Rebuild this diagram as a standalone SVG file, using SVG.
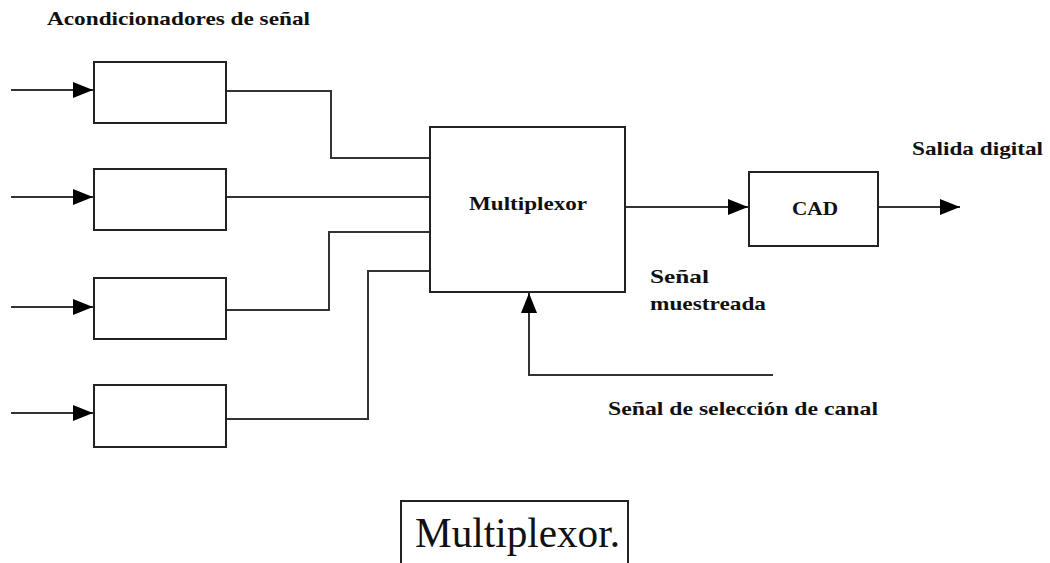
<svg xmlns="http://www.w3.org/2000/svg" width="1050" height="563" viewBox="0 0 1050 563">
<style>
.box{fill:#fff;stroke:#222;stroke-width:2}
.ln{fill:none;stroke:#333;stroke-width:2}
.lbl{font-family:"Liberation Serif","Times New Roman",serif;font-weight:bold;font-size:19px;fill:#111}
.cap{font-family:"Liberation Serif","Times New Roman",serif;font-size:42px;fill:#111}
</style>
<defs>
<marker id="ah" viewBox="0 0 20 16" refX="20" refY="8" markerWidth="20" markerHeight="16" markerUnits="userSpaceOnUse" orient="auto">
<path d="M0,0 L20,8 L0,16 Z" fill="#000"/>
</marker>
</defs>
<rect width="1050" height="563" fill="#fff"/>
<g id="connectors">
<line class="ln" x1="11" y1="90" x2="93" y2="90" marker-end="url(#ah)"/>
<line class="ln" x1="11" y1="197" x2="93" y2="197" marker-end="url(#ah)"/>
<line class="ln" x1="11" y1="307" x2="93" y2="307" marker-end="url(#ah)"/>
<line class="ln" x1="11" y1="413" x2="93" y2="413" marker-end="url(#ah)"/>
<polyline class="ln" points="226,91 331,91 331,158 430,158"/>
<polyline class="ln" points="226,197 430,197"/>
<polyline class="ln" points="226,310 329,310 329,232 430,232"/>
<polyline class="ln" points="226,419 368,419 368,271 430,271"/>
<line class="ln" x1="625" y1="207" x2="748" y2="207" marker-end="url(#ah)"/>
<line class="ln" x1="878" y1="207" x2="960" y2="207" marker-end="url(#ah)"/>
<polyline class="ln" points="773,375 529,375 529,293" marker-end="url(#ah)"/>
</g>
<g id="acond1"><rect class="box" x="94" y="62" width="132" height="61"/></g>
<g id="acond2"><rect class="box" x="94" y="169" width="132" height="61"/></g>
<g id="acond3"><rect class="box" x="94" y="278" width="132" height="61"/></g>
<g id="acond4"><rect class="box" x="94" y="385" width="132" height="62"/></g>
<g id="mux"><rect class="box" x="430" y="127" width="195" height="165"/>
<text class="lbl" x="469" y="210" textLength="118" lengthAdjust="spacingAndGlyphs">Multiplexor</text></g>
<g id="cad"><rect class="box" x="749" y="172" width="129" height="74"/>
<text class="lbl" x="792" y="215" textLength="46" lengthAdjust="spacingAndGlyphs">CAD</text></g>
<g id="labels">
<text class="lbl" x="47" y="25" textLength="263" lengthAdjust="spacingAndGlyphs">Acondicionadores de señal</text>
<text class="lbl" x="912" y="155" textLength="131" lengthAdjust="spacingAndGlyphs">Salida digital</text>
<text class="lbl" x="650" y="283" textLength="59" lengthAdjust="spacingAndGlyphs">Señal</text>
<text class="lbl" x="650" y="310" textLength="116" lengthAdjust="spacingAndGlyphs">muestreada</text>
<text class="lbl" x="608" y="415" textLength="270" lengthAdjust="spacingAndGlyphs">Señal de selección de canal</text>
</g>
<g id="caption"><rect class="box" x="401" y="501" width="227" height="70" stroke-width="1.5"/>
<text class="cap" x="415" y="547" textLength="205" lengthAdjust="spacingAndGlyphs">Multiplexor.</text></g>
</svg>
